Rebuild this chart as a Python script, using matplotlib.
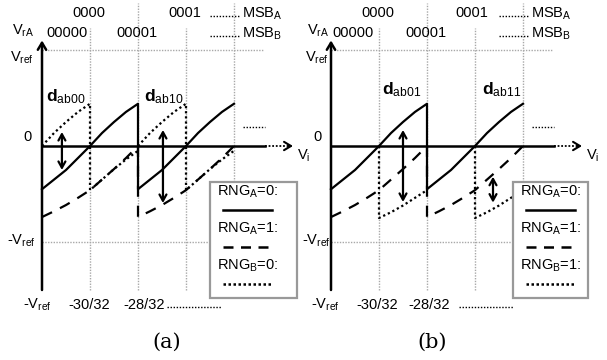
import matplotlib.pyplot as plt
import numpy as np
from matplotlib.patches import Rectangle

plt.rcParams['font.family'] = ['Liberation Sans', 'DejaVu Sans']
plt.rcParams['mathtext.fontset'] = 'custom'
plt.rcParams['mathtext.rm'] = 'Liberation Sans'
plt.rcParams['mathtext.it'] = 'Liberation Sans:italic'
plt.rcParams['mathtext.bf'] = 'Liberation Sans:bold'

# x in units of Vref/32, y in units of Vref
grid_x = [-30, -28, -26, -24]
grid_top = [1.23, 1.49, 1.23, 1.49]
tick_x = [-32, -30, -28]
tick_labels = [r'-V$_{\mathrm{ref}}$', '-30/32', '-28/32']

# RNG_A=0 (solid)
rng_a0_x = [-32, -31.5, -31, -30.5, -30, -29.5, -29, -28.5, -28,
            -28, -27.5, -27, -26.5, -26, -25.5, -25, -24.5, -24]
rng_a0_y = [-0.45, -0.35, -0.25, -0.125, 0.0, 0.135, 0.25, 0.355, 0.44,
            -0.45, -0.35, -0.25, -0.125, 0.0, 0.135, 0.25, 0.355, 0.44]

# RNG_A=1 (dashed)
rng_a1_x = [-32, -31.5, -31, -30.5, -30, -29.5, -29, -28.5, -28,
            -28, -27.5, -27, -26.5, -26, -25.5, -25, -24.5, -24]
rng_a1_y = [-0.74, -0.68, -0.615, -0.54, -0.46, -0.35, -0.24, -0.125, 0.0,
            -0.74, -0.68, -0.615, -0.54, -0.46, -0.35, -0.24, -0.125, 0.0]

# RNG_B=0 (dotted, panel a)
rng_b0_x = [-32, -31.5, -31, -30.5, -30, -30, -29.5, -29, -28.5, -28, np.nan,
            -28, -27.5, -27, -26.5, -26, -26, -25.5, -25, -24.5, -24]
rng_b0_y = [0.0, 0.135, 0.25, 0.355, 0.44, -0.46, -0.35, -0.24, -0.14, -0.05, np.nan,
            0.0, 0.135, 0.25, 0.355, 0.44, -0.46, -0.35, -0.24, -0.14, -0.05]

# RNG_B=1 (dotted, panel b)
rng_b1_x = [-30, -30, -29.5, -29, -28.5, -28, np.nan,
            -26, -26, -25.5, -25, -24.5, -24]
rng_b1_y = [0.0, -0.75, -0.69, -0.62, -0.54, -0.46, np.nan,
            0.0, -0.75, -0.69, -0.62, -0.54, -0.46]

# difference arrows: x, y_top, y_bottom
arrows_a = [(-31.17, 0.146, -0.25), (-26.96, 0.167, -0.594)]
arrows_b = [(-29.0, 0.167, -0.583), (-25.25, -0.32, -0.59)]
d_labels_a = ['00', '10']
d_labels_b = ['01', '11']


def at(px, py):
    # panel-local pixel position -> data coords
    return -33.75 + px / 24.0, (146 - py) / 96.0


def dots(ax, x0, x1, py, lw=1.0):
    (a, y), (b, _) = at(x0, py), at(x1, py)
    ax.plot([a, b], [y, y], color='black', lw=lw, ls=(0, (1, 1.2)))


def draw_panel(ax, dot_x, dot_y, rng_b_name, d_names, arrows, L):
    ax.set_xlim(-33.75, -21.25)
    ax.set_ylim((146 - 360) / 96.0, 146 / 96.0)
    ax.axis('off')
    grey = '#a8a8a8'
    fs = 10.5

    # grid
    for gx, gt in zip(grid_x, grid_top):
        ax.plot([gx, gx], [-1.5, gt], color=grey, lw=1.0, ls=(0, (1, 1)), zorder=1)
    x_end = at(263, 0)[0]
    ax.plot([-32, x_end], [1, 1], color=grey, lw=1.0, ls=(0, (1, 1)), zorder=1)
    ax.plot([-32, x_end], [-1, -1], color=grey, lw=1.0, ls=(0, (1, 1)), zorder=1)

    # axes
    ax.annotate('', xy=(-32, 1.1), xytext=(-32, -1.5),
                arrowprops=dict(arrowstyle='->,head_length=0.5,head_width=0.3',
                                lw=1.8, color='black', shrinkA=0, shrinkB=0), zorder=4)
    x_solid = at(265, 0)[0]
    x_arrow = at(293, 0)[0]
    ax.plot([-32, x_solid], [0, 0], color='black', lw=1.8, zorder=4)
    ax.plot([x_solid, x_arrow - 0.1], [0, 0], color='black', lw=1.3, ls=(0, (1, 1)), zorder=4)
    ax.annotate('', xy=(x_arrow, 0), xytext=(x_arrow - 0.2, 0),
                arrowprops=dict(arrowstyle='->,head_length=0.5,head_width=0.3',
                                lw=1.5, color='black', shrinkA=0, shrinkB=0))

    # curves
    ax.plot(rng_a0_x, rng_a0_y, color='black', lw=1.6, zorder=3)
    ax.plot(rng_a1_x, rng_a1_y, color='black', lw=1.6, ls=(0, (5, 4)), zorder=3)
    ax.plot(dot_x, dot_y, color='black', lw=1.6, ls=(0, (1, 1.3)), zorder=3)

    for x, y0, y1 in arrows:
        ax.annotate('', xy=(x, y1), xytext=(x, y0),
                    arrowprops=dict(arrowstyle='<->,head_length=0.45,head_width=0.25',
                                    lw=1.6, color='black', shrinkA=0, shrinkB=0), zorder=4)

    # labels
    ax.text(*at(89, 13), '0000', ha='center', va='center', fontsize=fs)
    ax.text(*at(L['a1'], 13), '0001', ha='center', va='center', fontsize=fs)
    ax.text(*at(L['b0'], 33), '00000', ha='center', va='center', fontsize=fs)
    ax.text(*at(137, 33), '00001', ha='center', va='center', fontsize=fs)
    dots(ax, 210, 240, 16)
    dots(ax, 210, 240, 36)
    ax.text(*at(242, 14), r'MSB$_{\mathrm{A}}$', ha='left', va='center', fontsize=fs)
    ax.text(*at(242, 34), r'MSB$_{\mathrm{B}}$', ha='left', va='center', fontsize=fs)

    ax.text(*at(L['vx'], 31), r'V$_{\mathrm{rA}}$', ha='right', va='center', fontsize=fs)
    ax.text(*at(L['vx'], 58), r'V$_{\mathrm{ref}}$', ha='right', va='center', fontsize=fs)
    ax.text(*at(28, 137), '0', ha='center', va='center', fontsize=fs)
    ax.text(*at(L['vx'] + 2, 241), r'-V$_{\mathrm{ref}}$', ha='right', va='center', fontsize=fs)
    ax.text(*at(297, 156), r'V$_{\mathrm{i}}$', ha='left', va='center', fontsize=fs)

    for (px, py), name in zip(L['d'], d_names):
        ax.text(*at(px, py), r'$\mathbf{d}_{\mathrm{ab' + name + '}}$',
                ha='left', va='center', fontsize=12.5)
    dots(ax, 243, 265, 127)

    for tx, lab, off in zip(tick_x, tick_labels, L['ticks']):
        ax.text(tx + off / 24.0, at(0, 305)[1], lab, ha='center', va='center', fontsize=fs)
    dots(ax, L['bdots'], L['bdots'] + 55, 307)

    ax.text(*at(L['cap'], 342), L['cap_text'], ha='center', va='center',
            fontsize=15, family='DejaVu Serif')

    # legend box
    bx0, by0 = at(L['box'][0], 298)
    bx1, by1 = at(L['box'][1], 182)
    ax.add_patch(Rectangle((bx0, by0), bx1 - bx0, by1 - by0, facecolor='white',
                           edgecolor='#999999', lw=1.6, zorder=5, clip_on=False))
    tl = L['box'][0] + 7
    sx0, sx1 = L['box'][0] + 13, L['box'][0] + 62
    entries = [(r'RNG$_{\mathrm{A}}$=0:', '-'), (r'RNG$_{\mathrm{A}}$=1:', (0, (4, 3))),
               (r'RNG$_{\mathrm{B}}$=' + rng_b_name + ':', (0, (1, 1)))]
    for i, (lab, ls) in enumerate(entries):
        ty = 192 + 37 * i
        ax.text(*at(tl, ty), lab, ha='left', va='center', fontsize=fs, zorder=6)
        (a, y), (b, _) = at(sx0, ty + 18), at(sx1, ty + 18)
        ax.plot([a, b], [y, y], color='black', lw=1.8, ls=ls, zorder=6)


fig = plt.figure(figsize=(6.07, 3.6), dpi=100)
ax_a = fig.add_axes([0, 0, 300 / 607, 1])
ax_b = fig.add_axes([289 / 607, 0, 300 / 607, 1])
for ax in (ax_a, ax_b):
    ax.patch.set_alpha(0)

layout_a = dict(a1=185, b0=67, vx=34, d=[(46, 97), (144, 97)], ticks=[-5, -1, 6],
                bdots=167, cap=167, cap_text='(a)', box=(210, 297))
layout_b = dict(a1=183, b0=64, vx=40, d=[(93, 90), (193, 90)], ticks=[-6, -2, 2],
                bdots=170, cap=143, cap_text='(b)', box=(224, 299))

draw_panel(ax_a, rng_b0_x, rng_b0_y, '0', d_labels_a, arrows_a, layout_a)
draw_panel(ax_b, rng_b1_x, rng_b1_y, '1', d_labels_b, arrows_b, layout_b)

fig.savefig('out.png', dpi=100)
